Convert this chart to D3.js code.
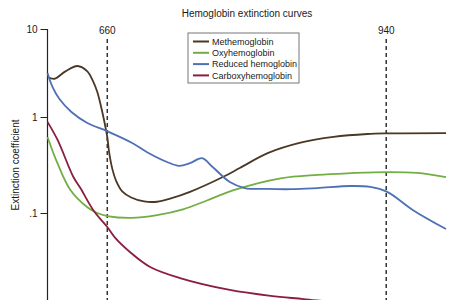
<!DOCTYPE html>
<html>
<head>
<meta charset="utf-8">
<script src="https://cdn.jsdelivr.net/npm/d3@7"></script>
<style>
  body { margin: 0; background: #fff; }
  text { font-family: "Liberation Sans", Arial, sans-serif; fill: #1a1a1a; }
</style>
</head>
<body>
<div id="chart"></div>
<script>
// wavelength (nm) / extinction coefficient
const methemoglobin = [[600,2.85],[607,2.72],[618,3.3],[630,3.8],[640,3.3],[646,2.5],[650,1.92],[655,1.14],[658,0.8],[660,0.62],[662,0.42],[665,0.29],[669,0.215],[675,0.168],[684,0.145],[697,0.132],[710,0.131],[723,0.141],[743,0.166],[776,0.237],[793,0.294],[821,0.42],[854,0.54],[887,0.62],[921,0.665],[941,0.675],[1000,0.68]];
const oxyhemoglobin = [[600,0.62],[610,0.33],[623,0.174],[640,0.115],[650,0.1],[660,0.093],[684,0.089],[710,0.095],[736,0.109],[760,0.135],[786,0.172],[834,0.23],[871,0.25],[904,0.26],[941,0.267],[971,0.262],[1000,0.237]];
const reducedHemoglobin = [[600,3.16],[605,2.2],[612,1.6],[624,1.14],[640,0.866],[660,0.71],[685,0.536],[700,0.43],[720,0.34],[732,0.31],[743,0.33],[755,0.372],[766,0.3],[783,0.21],[798,0.182],[820,0.178],[845,0.177],[871,0.182],[904,0.191],[924,0.187],[941,0.166],[967,0.107],[1000,0.068]];
const carboxyhemoglobin = [[600,0.89],[610,0.58],[626,0.237],[633,0.182],[646,0.107],[660,0.0715],[668,0.055],[683,0.039],[703,0.0274],[733,0.021],[783,0.0158],[824,0.0137],[857,0.0127],[900,0.0115],[1000,0.0098]];

const seriesNames = ["Methemoglobin", "Oxyhemoglobin", "Reduced hemoglobin", "Carboxyhemoglobin"];
const seriesColors = ["#4a3826", "#72ad45", "#4e70b6", "#8b1d3d"];
const seriesData = [methemoglobin, oxyhemoglobin, reducedHemoglobin, carboxyhemoglobin];

const yTicks = [10, 1, 0.1];
const yTickLabels = ["10", "1", ".1"];
const markers = [660, 940];

const width = 459, height = 300;

const svg = d3.select("#chart").append("svg")
  .attr("width", width)
  .attr("height", height);

const x = d3.scaleLinear().domain([600, 1000]).range([47.5, 446]);
// log axis, decades drawn the same way the original does
const y = d3.scaleLog().domain([0.1, 1, 10]).range([213, 117, 29]);

// title
svg.append("text")
  .attr("x", 247).attr("y", 17)
  .attr("text-anchor", "middle")
  .attr("font-size", 10)
  .text("Hemoglobin extinction curves");

// dashed marker lines
markers.forEach(m => {
  svg.append("line")
    .attr("x1", x(m)).attr("x2", x(m))
    .attr("y1", 39).attr("y2", height)
    .attr("stroke", "#333")
    .attr("stroke-width", 1.5)
    .attr("stroke-dasharray", "4,3");
  svg.append("text")
    .attr("x", x(m)).attr("y", 34)
    .attr("text-anchor", "middle")
    .attr("font-size", 10)
    .text(m);
});

// y axis
const yAxis = d3.axisLeft(y)
  .tickValues(yTicks)
  .tickFormat((d, i) => yTickLabels[i])
  .tickSize(7)
  .tickPadding(3);

const gy = svg.append("g")
  .attr("transform", "translate(47.5,0)")
  .call(yAxis);
gy.select(".domain").remove();
gy.append("line")
  .attr("y1", 29).attr("y2", height)
  .attr("stroke", "#222").attr("stroke-width", 1.2);
gy.selectAll(".tick line").attr("stroke", "#222");
gy.selectAll(".tick text")
  .attr("font-size", 10)
  .attr("font-family", "Liberation Sans, Arial, sans-serif")
  .attr("fill", "#1a1a1a");

svg.append("text")
  .attr("transform", "translate(19,165) rotate(-90)")
  .attr("text-anchor", "middle")
  .attr("font-size", 10)
  .text("Extinction coefficient");

// curves
const line = d3.line()
  .x(d => x(d[0]))
  .y(d => y(d[1]))
  .curve(d3.curveCatmullRom.alpha(0.5));

svg.append("g")
  .selectAll("path")
  .data(seriesData)
  .enter()
  .append("path")
  .attr("d", d => line(d))
  .attr("fill", "none")
  .attr("stroke", (d, i) => seriesColors[i])
  .attr("stroke-width", 1.8);

// legend
const legend = svg.append("g").attr("transform", "translate(188,33)");
legend.append("rect")
  .attr("x", 0).attr("y", 0)
  .attr("width", 111).attr("height", 50)
  .attr("fill", "#fff")
  .attr("stroke", "#777")
  .attr("stroke-width", 1);

const items = legend.selectAll(".item")
  .data(seriesNames)
  .enter()
  .append("g")
  .attr("transform", (d, i) => `translate(0,${8.5 + i * 11.3})`);
items.append("line")
  .attr("x1", 5).attr("x2", 21)
  .attr("stroke", (d, i) => seriesColors[i])
  .attr("stroke-width", 2);
items.append("text")
  .attr("x", 24).attr("y", 3.2)
  .attr("font-size", 9)
  .text(d => d);
</script>
</body>
</html>
